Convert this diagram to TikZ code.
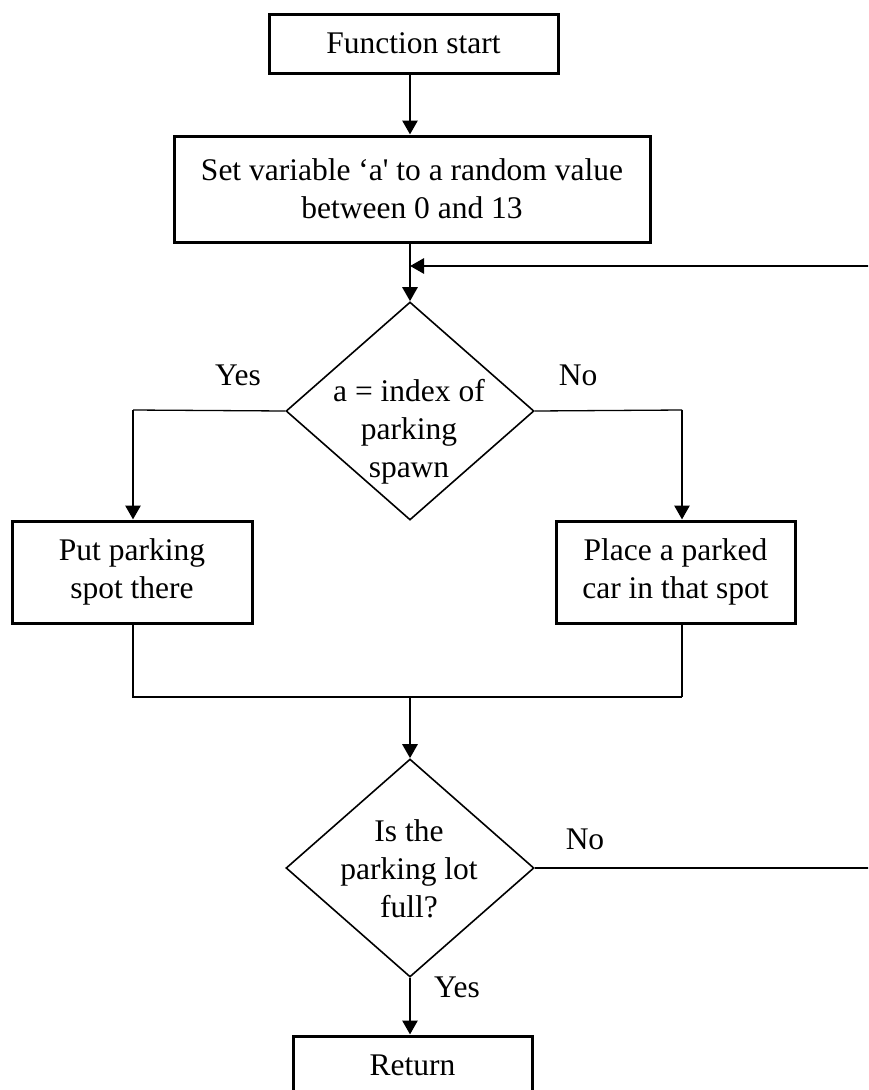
\documentclass[tikz,border=0pt]{standalone}
\usepackage{fontspec}
\setmainfont{Liberation Serif}
\usetikzlibrary{shapes.geometric,arrows.meta}

\newcommand{\chartfont}{\fontsize{31.5}{38}\selectfont}

\tikzset{
  box/.style={draw, line width=3pt, inner sep=0pt, align=center, font=\chartfont},
  decision/.style={diamond, draw, line width=1.6pt, minimum width=248pt,
                   minimum height=218pt, inner sep=0pt},
  flow/.style={line width=2.8pt, -{Triangle[length=14pt,width=15pt]}},
  joinline/.style={line width=1.3pt},
  lbl/.style={inner sep=0pt, align=center, font=\chartfont},
}

\begin{document}
\begin{tikzpicture}[x=1pt, y=-1pt]
  \useasboundingbox (0,0) rectangle (868,1090);
  \clip (0,0) rectangle (868,1090);

  % process boxes
  \node[box, minimum width=289pt, minimum height=59pt] (start) at (413.5,43.5) {Function start};
  \node[box, minimum width=476pt, minimum height=106pt] (setv) at (412,189)
       {Set variable ‘a\textquotesingle{} to a random value\\between 0 and 13};
  \node[box, minimum width=240pt, minimum height=102pt] (put) at (132,572)
       {Put parking\\spot there};
  \node[box, minimum width=239pt, minimum height=102pt] (place) at (675.5,572)
       {Place a parked\\car in that spot};
  \node[box, minimum width=239pt, minimum height=59pt] (ret) at (412.5,1065.5) {Return};

  % decisions
  \node[decision] (d1) at (410,411) {};
  \node[lbl] (d1t) at (409,432) {a = index of\\parking\\spawn};
  \node[decision] (d2) at (410,868) {};
  \node[lbl] (d2t) at (409,869) {Is the\\parking lot\\full?};

  % branch labels
  \node[lbl] (yes1) at (238,375) {Yes};
  \node[lbl] (no1) at (578,375) {No};
  \node[lbl] (no2) at (585,839) {No};
  \node[lbl] (yes2) at (457,987) {Yes};

  % routing points
  \coordinate (loopin) at (410,266);
  \coordinate (loopR) at (880,266);
  \coordinate (yesc) at (133,410);
  \coordinate (noc) at (682,410);
  \coordinate (mL) at (133,697);
  \coordinate (mR) at (682,697);
  \coordinate (mC) at (410,697);
  \coordinate (exitR) at (880,868);

  % main column
  \draw[flow] (start.south -| d1.north) -- (setv.north -| d1.north);
  \draw[flow] (setv.south -| d1.north) -- (d1.north);
  \draw[flow] (loopR) -- (loopin);

  % first decision branches
  \draw[joinline] (d1.west) -- (yesc);
  \draw[flow] (yesc) -- (yesc |- put.north);
  \draw[joinline] (d1.east) -- (noc);
  \draw[flow] (noc) -- (noc |- place.north);

  % merge below the two boxes
  \draw[joinline] (put.south -| mL) -- (mL) -- (mR);
  \draw[joinline] (place.south -| mR) -- (mR);
  \draw[flow] (mC) -- (d2.north);

  % second decision
  \draw[flow] (d2.south) -- (d2.south |- ret.north);
  \draw[joinline] (d2.east) -- (exitR);
\end{tikzpicture}
\end{document}
